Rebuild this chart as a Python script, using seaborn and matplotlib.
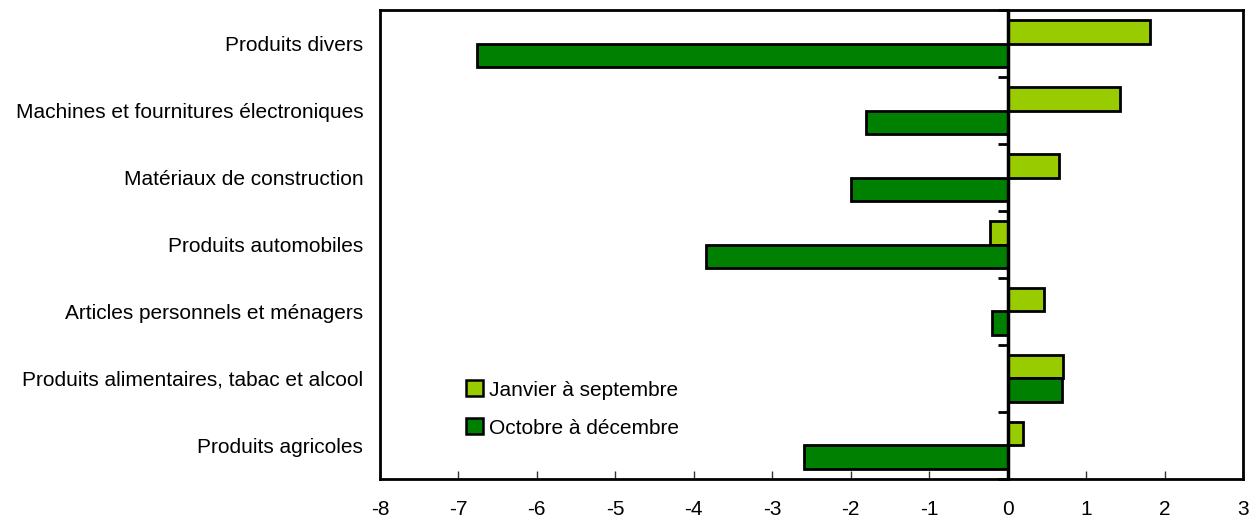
import matplotlib
matplotlib.use("Agg")
import matplotlib.pyplot as plt
import seaborn as sns
import pandas as pd
import numpy as np

categories = [
    "Produits divers",
    "Machines et fournitures électroniques",
    "Matériaux de construction",
    "Produits automobiles",
    "Articles personnels et ménagers",
    "Produits alimentaires, tabac et alcool",
    "Produits agricoles",
]
jan_sep = [1.81, 1.43, 0.66, -0.23, 0.46, 0.70, 0.19]
oct_dec = [-6.76, -1.80, -2.00, -3.85, -0.20, 0.69, -2.59]
series_names = ["Janvier à septembre", "Octobre à décembre"]
xticks = list(range(-8, 4))

df = pd.DataFrame({
    "cat": categories * 2,
    "val": jan_sep + oct_dec,
    "serie": [series_names[0]] * len(categories) + [series_names[1]] * len(categories),
})

sns.set_theme(style="white")
plt.rcParams["font.family"] = ["Liberation Sans", "DejaVu Sans"]
plt.rcParams["text.color"] = "black"
plt.rcParams["xtick.color"] = "black"
plt.rcParams["ytick.color"] = "black"

fig = plt.figure(figsize=(12.49, 5.22), dpi=100)
ax = fig.add_axes([0.3042, 0.0824, 0.6910, 0.8984])

sns.barplot(data=df, y="cat", x="val", hue="serie", orient="h",
            palette=["#99CC00", "#008000"], width=0.7,
            edgecolor="black", linewidth=2, ax=ax, saturation=1)

ax.axvline(0, color="black", linewidth=2.5, zorder=5)

ax.set_xlim(-8, 3)
ax.set_ylim(len(categories) - 0.5, -0.5)
ax.set_xticks(xticks)
ax.set_xticklabels([str(t) for t in xticks], fontsize=15, color="black")
ax.tick_params(axis="x", direction="in", length=6, width=1, color="#333333", pad=15, bottom=True)
ax.tick_params(axis="y", length=0, labelsize=15, pad=12, labelcolor="black")
ax.set_xlabel("")
ax.set_ylabel("")
for s in ax.spines.values():
    s.set_visible(True)
    s.set_color("black")
    s.set_linewidth(2)

# zero axis with ticks at category boundaries
zero_pos = (0 - (-8)) / 11
sec = ax.secondary_yaxis(zero_pos)
sec.set_yticks(np.arange(-0.5, len(categories), 1.0))
sec.set_yticklabels([])
sec.tick_params(axis="y", direction="in", length=7, width=2, color="black")
for s in sec.spines.values():
    s.set_linewidth(2)
    s.set_color("black")

leg = ax.legend(loc="upper left", bbox_to_anchor=(0.09, 0.228), frameon=False,
                fontsize=15, handlelength=0.8, handleheight=0.8, handletextpad=0.3,
                labelspacing=0.9, borderaxespad=0)
for h in leg.legend_handles:
    h.set_edgecolor("black")
    h.set_linewidth(1.8)
for t in leg.get_texts():
    t.set_color("black")

fig.savefig("out.png", dpi=100)
